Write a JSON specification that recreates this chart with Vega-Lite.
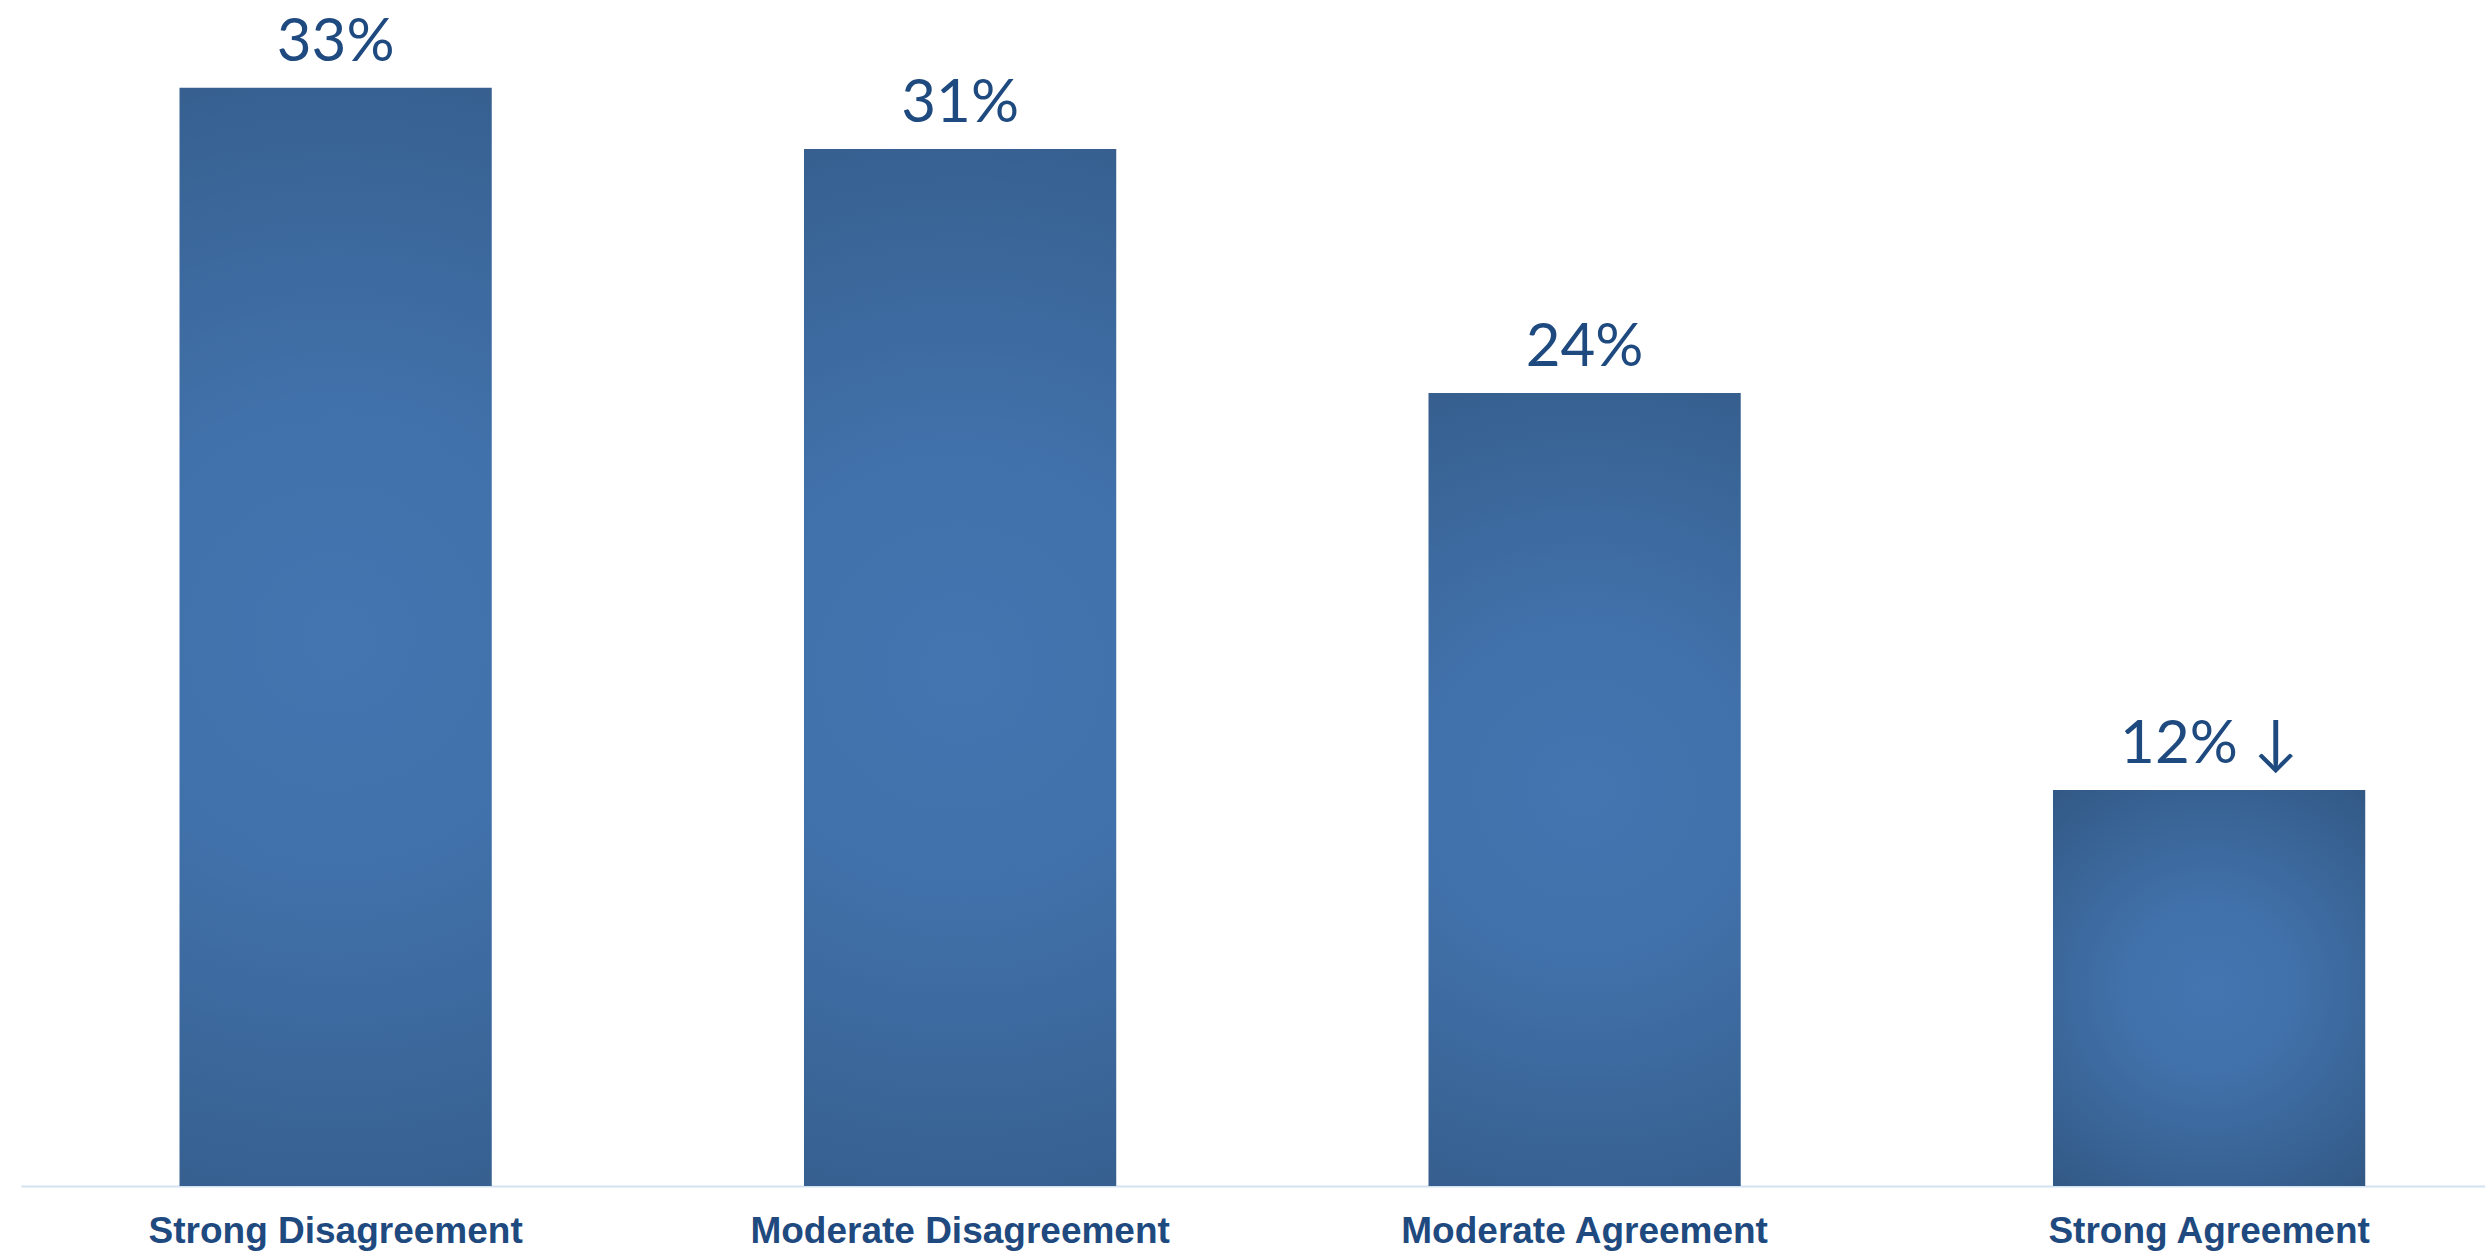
{
  "$schema": "https://vega.github.io/schema/vega-lite/v6.json",
  "autosize": {"type": "none"},
  "width": 2464,
  "height": 1186,
  "padding": {"left": 21, "top": 0, "right": 0, "bottom": 66},
  "background": "white",
  "config": {"view": {"stroke": null}},
  "data": {
    "values": [
      {"category": "Strong Disagreement", "value": 33, "label": "33%"},
      {"category": "Moderate Disagreement", "value": 31.16, "label": "31%"},
      {"category": "Moderate Agreement", "value": 23.83, "label": "24%"},
      {"category": "Strong Agreement", "value": 11.9, "label": "12% ↓"}
    ]
  },
  "encoding": {
    "x": {
      "field": "category",
      "type": "nominal",
      "sort": null,
      "scale": {"paddingInner": 0.5, "paddingOuter": 0.2228, "align": 0.5696},
      "axis": {
        "title": null,
        "labelAngle": 0,
        "labelLimit": 0,
        "ticks": false,
        "domainColor": "#d3e2f1",
        "domainWidth": 2,
        "labelFont": "Liberation Sans",
        "labelFontWeight": "bold",
        "labelFontSize": 37,
        "labelColor": "#1f4a80",
        "labelBaseline": "alphabetic",
        "labelPadding": 56
      }
    },
    "y": {
      "field": "value",
      "type": "quantitative",
      "scale": {"domain": [0, 35.64], "nice": false},
      "axis": null
    }
  },
  "layer": [
    {
      "mark": {
        "type": "bar",
        "color": {
          "gradient": "radial",
          "x1": 0.5, "y1": 0.5, "r1": 0,
          "x2": 0.5, "y2": 0.5, "r2": 0.62,
          "stops": [
            {"offset": 0, "color": "#4475b0"},
            {"offset": 0.35, "color": "#4171aa"},
            {"offset": 1, "color": "#335a87"}
          ]
        }
      }
    },
    {
      "mark": {
        "type": "text",
        "baseline": "alphabetic",
        "dy": -27,
        "font": "Lato",
        "fontWeight": 400,
        "fontSize": 60,
        "color": "#1f4a7f"
      },
      "encoding": {"text": {"field": "label"}}
    }
  ]
}
